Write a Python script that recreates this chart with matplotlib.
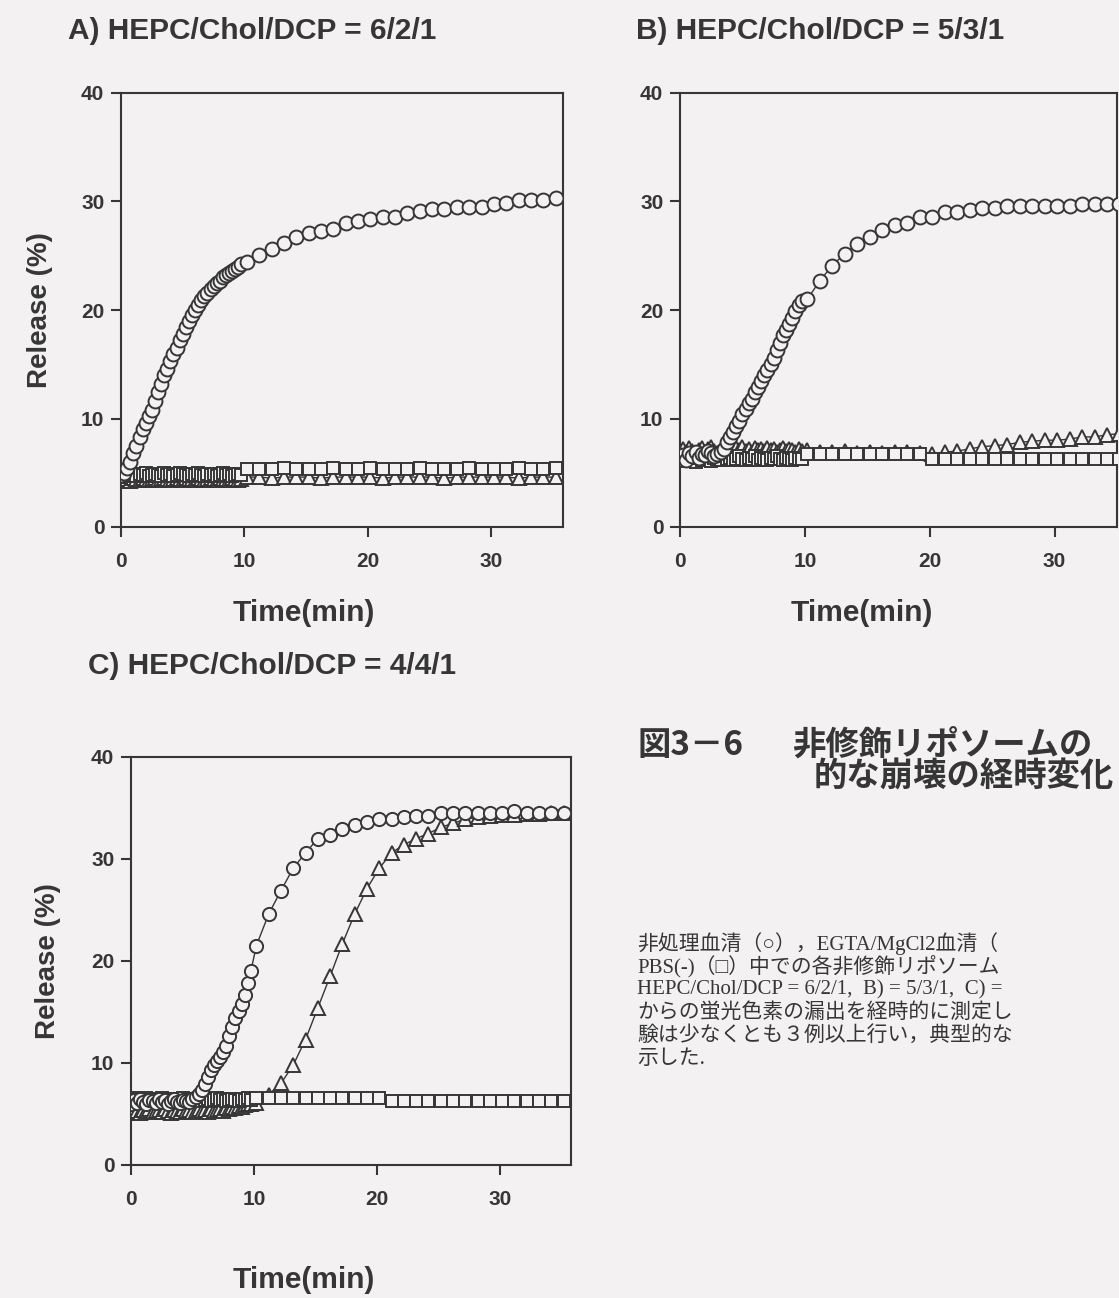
import matplotlib
matplotlib.use("Agg")
import matplotlib.pyplot as plt

W, H = 1119, 1298
BG = "#f3f1f2"
INK = "#363636"

# ---------------- data ----------------
t_dense = [0.0, 0.25, 0.5, 0.75, 1.0, 1.25, 1.5, 1.75, 2.0, 2.25,
           2.5, 2.75, 3.0, 3.25, 3.5, 3.75, 4.0, 4.25, 4.5, 4.75,
           5.0, 5.25, 5.5, 5.75, 6.0, 6.25, 6.5, 6.75, 7.0, 7.25,
           7.5, 7.75, 8.0, 8.25, 8.5, 8.75, 9.0, 9.25, 9.5, 9.75]
t_late = [10.2, 11.2, 12.2, 13.2, 14.2, 15.2, 16.2, 17.2, 18.2, 19.2,
          20.2, 21.2, 22.2, 23.2, 24.2, 25.2, 26.2, 27.2, 28.2, 29.2,
          30.2, 31.2, 32.2, 33.2, 34.2, 35.2]

# Panel A  (HEPC/Chol/DCP = 6/2/1)
circ_A_dense = [4.8, 5.0, 5.4, 6.0, 6.8, 7.5, 8.3, 9.0, 9.6, 10.2,
                10.8, 11.6, 12.4, 13.2, 14.0, 14.6, 15.3, 15.9, 16.5, 17.2,
                17.8, 18.4, 19.0, 19.5, 20.0, 20.5, 20.9, 21.3, 21.6, 21.9,
                22.2, 22.5, 22.7, 23.0, 23.2, 23.4, 23.6, 23.8, 24.0, 24.2]
circ_A_late = [24.4, 25.1, 25.6, 26.2, 26.7, 27.1, 27.3, 27.5, 28.0, 28.2,
               28.4, 28.6, 28.6, 28.9, 29.1, 29.3, 29.3, 29.5, 29.5, 29.5,
               29.8, 29.9, 30.1, 30.1, 30.1, 30.3]
tri_A_dense = [4.3, 4.5, 4.4, 4.2, 4.5, 4.4, 4.3, 4.5, 4.4, 4.3,
               4.4, 4.5, 4.3, 4.4, 4.5, 4.4, 4.3, 4.4, 4.5, 4.4,
               4.3, 4.5, 4.4, 4.4, 4.3, 4.5, 4.4, 4.3, 4.4, 4.5,
               4.4, 4.3, 4.5, 4.4, 4.4, 4.3, 4.5, 4.4, 4.3, 4.4]
tri_A_late = [4.6, 4.6, 4.5, 4.6, 4.6, 4.6, 4.5, 4.6, 4.6, 4.6,
              4.6, 4.5, 4.6, 4.6, 4.6, 4.6, 4.5, 4.6, 4.6, 4.6,
              4.6, 4.6, 4.5, 4.6, 4.6, 4.6]
sq_A_dense = [4.6, 4.9, 4.7, 5.0, 4.8, 4.7, 4.9, 4.8, 5.0, 4.7,
              4.8, 4.9, 4.8, 4.7, 5.0, 4.8, 4.9, 4.7, 4.8, 5.0,
              4.9, 4.8, 4.7, 4.9, 4.8, 5.0, 4.8, 4.7, 4.9, 4.8,
              4.9, 4.7, 4.8, 5.0, 4.8, 4.9, 4.7, 4.8, 4.9, 4.8]
sq_A_late = [5.3, 5.3, 5.3, 5.4, 5.3, 5.3, 5.3, 5.4, 5.3, 5.3,
             5.4, 5.3, 5.3, 5.3, 5.4, 5.3, 5.3, 5.3, 5.4, 5.3,
             5.3, 5.3, 5.4, 5.3, 5.3, 5.4]

# Panel B  (HEPC/Chol/DCP = 5/3/1)
circ_B_dense = [6.3, 6.6, 6.2, 6.8, 6.5, 6.9, 6.4, 6.7, 6.6, 7.0,
                6.8, 6.5, 6.7, 6.9, 7.2, 7.8, 8.3, 8.8, 9.3, 9.8,
                10.4, 10.9, 11.4, 11.8, 12.4, 12.9, 13.5, 14.0, 14.5, 15.0,
                15.6, 16.3, 17.0, 17.7, 18.2, 18.7, 19.3, 19.9, 20.5, 20.8]
circ_B_late = [21.0, 22.7, 24.1, 25.2, 26.1, 26.7, 27.4, 27.8, 28.0, 28.6,
               28.6, 29.0, 29.0, 29.2, 29.4, 29.4, 29.6, 29.6, 29.6, 29.6,
               29.6, 29.6, 29.8, 29.8, 29.8, 29.8]
tri_B_dense = [6.8, 7.2, 6.9, 7.3, 7.0, 6.7, 7.1, 7.3, 6.9, 7.2,
               7.4, 7.0, 6.8, 7.1, 7.3, 7.0, 7.2, 6.9, 7.3, 7.1,
               7.4, 7.0, 7.2, 6.9, 7.3, 7.1, 7.2, 7.0, 7.3, 7.1,
               7.2, 6.9, 7.1, 7.3, 7.0, 7.2, 7.1, 6.9, 7.2, 7.0]
tri_B_late = [7.1, 6.9, 6.9, 7.0, 6.8, 6.9, 6.8, 6.9, 6.9, 6.8,
              6.7, 6.9, 7.0, 7.2, 7.4, 7.5, 7.6, 7.8, 7.9, 8.0,
              8.0, 8.1, 8.3, 8.3, 8.5, 8.6]
sq_B_dense = [6.1, 6.4, 6.2, 6.5, 6.3, 6.0, 6.4, 6.2, 6.5, 6.3,
              6.1, 6.4, 6.3, 6.2, 6.5, 6.3, 6.4, 6.2, 6.3, 6.5,
              6.3, 6.2, 6.4, 6.3, 6.5, 6.2, 6.4, 6.3, 6.2, 6.4,
              6.3, 6.5, 6.3, 6.2, 6.4, 6.3, 6.2, 6.4, 6.3, 6.3]
sq_B_late = [6.7, 6.7, 6.7, 6.7, 6.7, 6.7, 6.7, 6.7, 6.7, 6.7,
             6.3, 6.3, 6.3, 6.3, 6.3, 6.3, 6.3, 6.3, 6.3, 6.3,
             6.3, 6.3, 6.3, 6.3, 6.3, 6.3]

# Panel C  (HEPC/Chol/DCP = 4/4/1)
circ_C_dense = [6.0, 6.4, 6.1, 6.5, 6.2, 6.0, 6.4, 6.3, 6.1, 6.5,
                6.2, 6.4, 6.0, 6.3, 6.5, 6.2, 6.1, 6.4, 6.3, 6.2,
                6.5, 6.7, 7.0, 7.4, 7.9, 8.6, 9.3, 9.8, 10.2, 10.6,
                11.1, 11.7, 12.6, 13.5, 14.4, 15.1, 15.8, 16.7, 17.8, 19.0]
circ_C_late = [21.5, 24.6, 26.9, 29.1, 30.6, 32.0, 32.4, 32.9, 33.3, 33.6,
               33.9, 33.9, 34.1, 34.2, 34.2, 34.5, 34.5, 34.5, 34.5, 34.5,
               34.5, 34.7, 34.5, 34.5, 34.5, 34.5]
tri_C_dense = [5.2, 5.5, 5.3, 5.1, 5.4, 5.3, 5.5, 5.2, 5.3, 5.4,
               5.2, 5.5, 5.3, 5.1, 5.4, 5.3, 5.2, 5.5, 5.3, 5.4,
               5.2, 5.3, 5.5, 5.3, 5.4, 5.2, 5.5, 5.3, 5.4, 5.5,
               5.3, 5.6, 5.5, 5.7, 5.6, 5.8, 5.7, 5.9, 6.0, 6.0]
tri_C_late = [6.1, 6.9, 8.0, 9.8, 12.3, 15.4, 18.5, 21.7, 24.6, 27.1,
              29.1, 30.6, 31.4, 32.0, 32.5, 33.1, 33.5, 33.9, 34.1, 34.2,
              34.3, 34.3, 34.4, 34.4, 34.5, 34.5]
sq_C_dense = [6.3, 6.6, 6.4, 6.5, 6.2, 6.6, 6.4, 6.3, 6.5, 6.4,
              6.6, 6.3, 6.5, 6.4, 6.2, 6.5, 6.4, 6.6, 6.3, 6.4,
              6.5, 6.4, 6.3, 6.6, 6.4, 6.5, 6.3, 6.4, 6.6, 6.4,
              6.5, 6.3, 6.4, 6.5, 6.4, 6.3, 6.5, 6.4, 6.6, 6.4]
sq_C_late = [6.6, 6.6, 6.6, 6.6, 6.6, 6.6, 6.6, 6.6, 6.6, 6.6,
             6.6, 6.3, 6.3, 6.3, 6.3, 6.3, 6.3, 6.3, 6.3, 6.3,
             6.3, 6.3, 6.3, 6.3, 6.3, 6.3]

x_ticks = [0, 10, 20, 30]
y_ticks = [0, 10, 20, 30, 40]

panel_titles = ["A) HEPC/Chol/DCP = 6/2/1",
                "B) HEPC/Chol/DCP = 5/3/1",
                "C) HEPC/Chol/DCP = 4/4/1"]
x_label = "Time(min)"
y_label = "Release (%)"

fig_label = "図3－6"
fig_title_lines = ["非修飾リポソームの", "的な崩壊の経時変化"]
caption_lines = ["非処理血清（○），EGTA/MgCl2血清（",
                 "PBS(-)（□）中での各非修飾リポソーム",
                 "HEPC/Chol/DCP = 6/2/1,  B) = 5/3/1,  C) =",
                 "からの蛍光色素の漏出を経時的に測定し",
                 "験は少なくとも３例以上行い，典型的な",
                 "示した."]

# ---------------- figure ----------------
fig = plt.figure(figsize=(W / 100, H / 100), dpi=100, facecolor=BG)


def fx(x):
    return x / W


def fy(y):
    return 1 - y / H


def make_axes(left, right, top, bottom, xmax):
    ax = fig.add_axes([fx(left), fy(bottom), (right - left) / W, (bottom - top) / H])
    ax.set_facecolor(BG)
    ax.set_xlim(0, xmax)
    ax.set_ylim(0, 40)
    ax.set_xticks(x_ticks)
    ax.set_yticks(y_ticks)
    for s in ax.spines.values():
        s.set_linewidth(1.5)
        s.set_color(INK)
    ax.tick_params(direction="out", length=7, width=1.5, color=INK,
                   labelsize=15, labelcolor=INK)
    ax.tick_params(axis="x", pad=11)
    ax.tick_params(axis="y", pad=5)
    for lab in ax.get_xticklabels() + ax.get_yticklabels():
        lab.set_fontweight("bold")
        lab.set_fontfamily("Liberation Sans")
    return ax


def series(ax, td, yd, tl, yl, marker, ms):
    ax.plot(td + tl, yd + yl, marker=marker, ms=ms, mfc=BG, mec=INK, mew=1.4,
            color=INK, lw=1.0, zorder=3)


panels = [
    dict(box=(121, 563, 93, 527), xmax=35.8,
         tri=(tri_A_dense, tri_A_late), sq=(sq_A_dense, sq_A_late),
         circ=(circ_A_dense, circ_A_late), ms=10.0),
    dict(box=(680, 1117, 93, 527), xmax=35.0,
         tri=(tri_B_dense, tri_B_late), sq=(sq_B_dense, sq_B_late),
         circ=(circ_B_dense, circ_B_late), ms=10.0),
    dict(box=(131, 571, 757, 1165), xmax=35.8,
         tri=(tri_C_dense, tri_C_late), sq=(sq_C_dense, sq_C_late),
         circ=(circ_C_dense, circ_C_late), ms=9.5),
]

axes = []
for p in panels:
    ax = make_axes(*p["box"], p["xmax"])
    series(ax, t_dense, p["tri"][0], t_late, p["tri"][1], "^", p["ms"])
    series(ax, t_dense, p["sq"][0], t_late, p["sq"][1], "s", p["ms"] - 0.8)
    series(ax, t_dense, p["circ"][0], t_late, p["circ"][1], "o", p["ms"])
    axes.append(ax)

title_kw = dict(fontsize=21.5, fontweight="bold", color=INK, family="Liberation Sans")
xlab_kw = dict(fontsize=21.5, fontweight="bold", color=INK, family="Liberation Sans")
ylab_kw = dict(fontsize=20, fontweight="bold", color=INK, family="Liberation Sans")

# panel titles
fig.text(fx(68), fy(31), panel_titles[0], ha="left", va="center", **title_kw)
fig.text(fx(636), fy(31), panel_titles[1], ha="left", va="center", **title_kw)
fig.text(fx(88), fy(666), panel_titles[2], ha="left", va="center", **title_kw)

# axis labels
fig.text(fx(40), fy(310), y_label, rotation=90, ha="center", va="center", **ylab_kw)
fig.text(fx(48), fy(961), y_label, rotation=90, ha="center", va="center", **ylab_kw)
fig.text(fx(304), fy(613), x_label, ha="center", va="center", **xlab_kw)
fig.text(fx(862), fy(613), x_label, ha="center", va="center", **xlab_kw)
fig.text(fx(304), fy(1280), x_label, ha="center", va="center", **xlab_kw)

# Japanese figure caption
jp_bold = dict(fontsize=24, fontweight="bold", color=INK,
               family=["Noto Sans CJK JP"])
fig.text(fx(637), fy(745), fig_label, ha="left", va="center", **jp_bold)
fig.text(fx(792), fy(745), fig_title_lines[0], ha="left", va="center", **jp_bold)
fig.text(fx(814), fy(777), fig_title_lines[1], ha="left", va="center", **jp_bold)

body_kw = dict(fontsize=15, color=INK,
               family=["Liberation Serif", "Noto Sans CJK JP"])
y0 = 944
for i, line in enumerate(caption_lines):
    fig.text(fx(637), fy(y0 + 23 * i), line, ha="left", va="center", **body_kw)

fig.savefig("out.png", dpi=100, facecolor=BG)
